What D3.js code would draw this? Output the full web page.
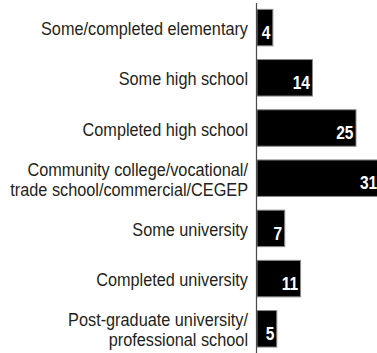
<!DOCTYPE html>
<html>
<head>
<meta charset="utf-8">
<script src="https://cdn.jsdelivr.net/npm/d3@7"></script>
<style>
  html, body { margin: 0; padding: 0; background: #fff; }
  svg { display: block; }
  .cat { font-family: "Liberation Sans", Arial, sans-serif; font-size: 18.5px; fill: #231f20; }
  .val { font-family: "Liberation Sans", Arial, sans-serif; font-size: 18.5px; font-weight: bold; fill: #fff; }
</style>
</head>
<body>
<svg id="chart" width="377" height="353"></svg>
<script>
// Education levels (each entry is the lines of its label)
const categories = [
  ["Some/completed elementary"],
  ["Some high school"],
  ["Completed high school"],
  ["Community college/vocational/", "trade school/commercial/CEGEP"],
  ["Some university"],
  ["Completed university"],
  ["Post-graduate university/", "professional school"]
];
// Share of respondents, percent
const values = [4, 14, 25, 31, 7, 11, 5];

const width = 377, height = 353;
const svg = d3.select("#chart");

// Condensed look: horizontally squeezed sans
const catSqueeze = 0.88, valSqueeze = 0.84;

const keys = categories.map(c => c.join(" "));

const y = d3.scaleBand()
  .domain(keys)
  .range([2.5, 353.9])
  .paddingInner(0.273)
  .paddingOuter(0.1365);

const x = d3.scaleLinear()
  .domain([0, 25])
  .range([257, 356]);

const rows = svg.selectAll("g.row")
  .data(categories.map((c, i) => ({ lines: c, key: keys[i], value: values[i] })))
  .join("g")
  .attr("class", "row");

rows.append("rect")
  .attr("x", x(0))
  .attr("y", d => y(d.key))
  .attr("width", d => x(d.value) - x(0))
  .attr("height", y.bandwidth())
  .attr("fill", "#000")
  .attr("stroke", "#8a8a8a")
  .attr("stroke-width", 1);

rows.append("text")
  .attr("class", "val")
  .attr("transform", d => `translate(${x(d.value) - 2.5},${y(d.key) + y.bandwidth() - 7}) scale(${valSqueeze},1)`)
  .attr("text-anchor", "end")
  .text(d => d.value);

const lineH = 20, cap = 13.3;
rows.append("text")
  .attr("class", "cat")
  .attr("text-anchor", "end")
  .attr("transform", `translate(248,0) scale(${catSqueeze},1)`)
  .each(function(d) {
    const mid = y(d.key) + y.bandwidth() / 2 + 1;
    const n = d.lines.length;
    const firstBase = mid + cap / 2 - (n - 1) * lineH / 2;
    d3.select(this).selectAll("tspan")
      .data(d.lines)
      .join("tspan")
      .attr("x", 0)
      .attr("y", (t, i) => firstBase + i * lineH)
      .text(t => t);
  });

// Vertical baseline of the bars
svg.append("line")
  .attr("x1", x(0) - 0.5).attr("x2", x(0) - 0.5)
  .attr("y1", 3).attr("y2", height)
  .attr("stroke", "#4a4a4a")
  .attr("stroke-width", 1.2);
</script>
</body>
</html>
